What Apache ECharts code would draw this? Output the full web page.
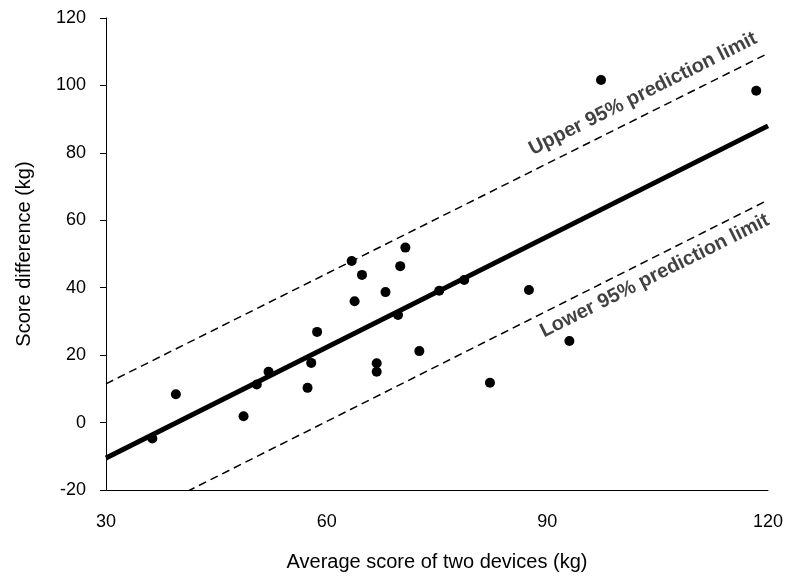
<!DOCTYPE html>
<html>
<head>
<meta charset="utf-8">
<script src="https://cdn.jsdelivr.net/npm/echarts@6/dist/echarts.min.js"></script>
<style>html,body{margin:0;padding:0;background:#fff}#c{width:787px;height:577px}</style>
</head>
<body>
<div id="c"></div>
<script>
// Observed points: average score (kg) and score difference (kg)
const avgScore = [36.3, 39.5, 48.7, 50.5, 52.1, 57.4, 57.9, 58.7, 63.4, 63.8, 64.8, 66.8, 66.8, 68.0, 69.7, 70.0, 70.7, 72.6, 75.3, 78.7, 82.2, 87.5, 93.0, 97.3, 118.4];
const scoreDiff = [-4.7, 8.4, 1.9, 11.3, 15.1, 10.3, 17.7, 26.9, 47.9, 36.0, 43.8, 17.6, 15.1, 38.7, 31.9, 46.4, 51.9, 21.2, 39.1, 42.3, 11.8, 39.3, 24.2, 101.6, 98.4];
// Line endpoints (x at 30 and 120)
const lineX = [30, 120];
const fitY = [-10.5, 88];
const upperY = [11.5, 109.5];
const lowerY = [-32.5, 66];
// Label anchors
const upperLabel = {text: 'Upper 95% prediction limit', x: 103, y: 97.5};
const lowerLabel = {text: 'Lower 95% prediction limit', x: 104.6, y: 43.5};
const xTicks = [30, 60, 90, 120];
const yTicks = [-20, 0, 20, 40, 60, 80, 100, 120];

const font = 'Arial, "Liberation Sans", sans-serif';
const pts = avgScore.map((x, i) => [x, scoreDiff[i]]);
const mk = ys => lineX.map((x, i) => [x, ys[i]]);

const chart = echarts.init(document.getElementById('c'));
chart.setOption({
  animation: false,
  grid: {left: 106, right: 19, top: 18, bottom: 87},
  xAxis: {
    type: 'value', min: xTicks[0], max: xTicks[xTicks.length - 1], interval: 30,
    name: 'Average score of two devices (kg)', nameLocation: 'middle', nameGap: 62,
    nameTextStyle: {fontFamily: font, fontSize: 20, color: '#000'},
    axisLine: {show: true, onZero: false, lineStyle: {color: '#000', width: 1}},
    axisTick: {show: false},
    axisLabel: {fontFamily: font, fontSize: 18, color: '#000', margin: 23},
    splitLine: {show: false}
  },
  yAxis: {
    type: 'value', min: yTicks[0], max: yTicks[yTicks.length - 1], interval: 20,
    name: 'Score difference (kg)', nameLocation: 'middle', nameGap: 72, nameRotate: 90,
    nameTextStyle: {fontFamily: font, fontSize: 20, color: '#000'},
    axisLine: {show: true, onZero: false, lineStyle: {color: '#000', width: 1}},
    axisTick: {show: true, length: 6, lineStyle: {color: '#000'}},
    axisLabel: {fontFamily: font, fontSize: 18, color: '#000', margin: 20},
    splitLine: {show: false}
  },
  series: [
    {type: 'line', data: mk(upperY), symbol: 'none', clip: true,
     lineStyle: {color: '#000', width: 1.5, type: [8, 5]}},
    {type: 'line', data: mk(lowerY), symbol: 'none', clip: true,
     lineStyle: {color: '#000', width: 1.5, type: [8, 5]}},
    {type: 'line', data: mk(fitY), symbol: 'none', clip: true,
     lineStyle: {color: '#000', width: 5}},
    {type: 'scatter', data: pts, symbol: 'circle', symbolSize: 10,
     itemStyle: {color: '#000', opacity: 1}},
    {type: 'scatter', symbolSize: 0, silent: true,
     data: [upperLabel, lowerLabel].map(l => ({value: [l.x, l.y], name: l.text})),
     label: {show: true, position: 'inside', formatter: p => p.name, rotate: 26.6,
             fontFamily: font, fontSize: 20, fontWeight: 'bold', color: '#111'}}
  ]
});
</script>
</body>
</html>
